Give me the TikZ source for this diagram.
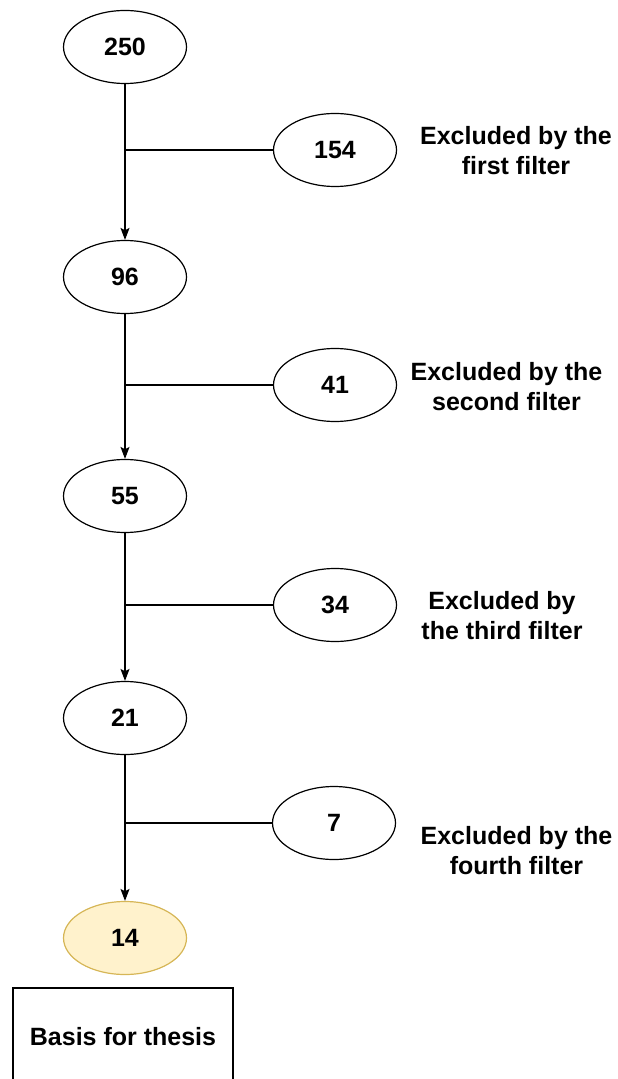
\documentclass[tikz,border=0pt]{standalone}
\usepackage{fontspec}
\setmainfont{Liberation Sans}
\usetikzlibrary{arrows.meta, shapes.geometric}

\definecolor{keptfill}{RGB}{255,242,204}
\definecolor{keptline}{RGB}{214,182,86}

\tikzset{
  count/.style={ellipse, draw, minimum width=61.5pt, minimum height=36.5pt, inner sep=0pt},
  kept/.style={count, fill=keptfill, draw=keptline},
  note/.style={align=center},
  basis/.style={rectangle, draw, minimum width=110pt, minimum height=49pt}
}

\begin{document}
\begin{tikzpicture}[x=0.5pt,y=-0.5pt,>={Stealth[length=6pt,width=4.5pt,inset=1.2pt]},semithick,
  font=\fontsize{12.5}{15}\selectfont\bfseries, node distance=110pt]
                \useasboundingbox (0,0) rectangle (617,1079);
                \node[count] (n250) at (125,47) {250};
                \node[count] (n96) [below of = n250, node distance=115pt] {96};
                \node[count] (n55) [below of = n96, node distance=109.5pt] {55};
                \node[count] (n21) [below of = n55, node distance=111pt] {21};
                \node[kept] (n14) [below of = n21] {14};
                \node[basis] (thesis) at (123,1037) {Basis for thesis};
                % excluded at each filter
                \node[count] (n154) at (335,150) {154};
                \node[count] (n41) at (335,385) {41};
                \node[count] (n34) at (335,605) {34};
                \node[count] (n7) at (334,823) {7};
                \node[note] (first) at (516,150.5) {Excluded by the\\first filter};
                \node[note] (second) at (506.5,387) {Excluded by the\\second filter};
                \node[note] (third) at (502,615.5) {Excluded by\\the third filter};
                \node[note] (fourth) at (516.5,851) {Excluded by the\\fourth filter};
                \path[->]
                (n250) edge (n96)
                (n96) edge (n55)
                (n55) edge (n21)
                (n21) edge (n14)
                ;
                \path[-]
                (n154.west) edge (n154.west -| n250)
                (n41.west) edge (n41.west -| n96)
                (n34.west) edge (n34.west -| n55)
                (n7.west) edge (n7.west -| n21)
                ;
            \end{tikzpicture}
\end{document}
